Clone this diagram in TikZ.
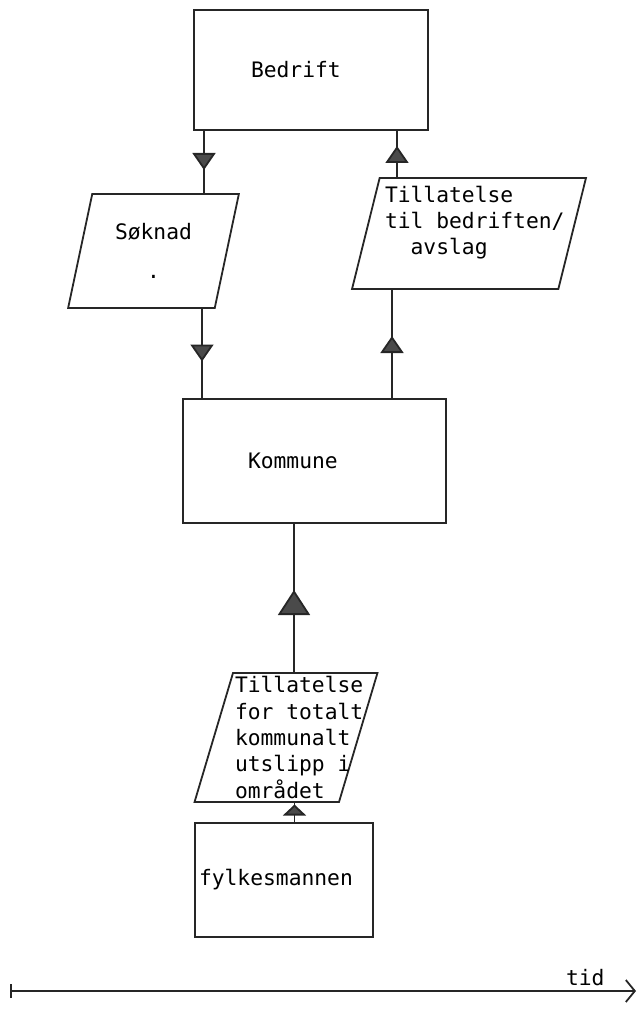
\documentclass[tikz,border=0pt]{standalone}
\usepackage{fontspec}
\setmonofont{DejaVu Sans Mono}
\usetikzlibrary{arrows.meta,positioning,shapes.geometric,decorations.markings}
\definecolor{ink}{HTML}{262626}
\definecolor{tipgray}{HTML}{4A4A4A}
% one typewriter cell of blank space
\newcommand{\tcell}{\hphantom{x}}
\tikzset{
  orgbox/.style={rectangle, draw=ink, line width=1.8pt, inner sep=0pt,
    align=left, font=\ttfamily\fontsize{21.3}{26.3}\selectfont},
  docbox/.style={trapezium, trapezium left angle=75, trapezium right angle=105,
    trapezium stretches=true, draw=ink, line width=1.8pt, inner sep=2pt,
    align=left, font=\ttfamily\fontsize{21.3}{26.3}\selectfont},
  flowline/.style={draw=ink, line width=1.8pt},
  % filled triangle half way along a connector
  flowtip/.style={flowline, postaction={decorate},
    decoration={markings, mark=at position 0.5 with
      {\pgftransformxshift{8pt}\arrow{Triangle[length=17pt, width=23pt, fill=tipgray, #1]}}}},
  flowtip/.default={},
  timeaxis/.style={draw=ink, line width=1.8pt,
    {Bar[width=14pt]}-{Straight Barb[length=9pt, width=22pt]}},
}

\begin{document}
\begin{tikzpicture}[x=1pt, y=-1pt]
\useasboundingbox (0,0) rectangle (638,1030);

% actors
\node[orgbox, minimum width=234pt, minimum height=120pt, text width=120pt]
  (bedrift) at (311,70) {Bedrift};
\node[orgbox, minimum width=263pt, minimum height=124pt, text width=133pt]
  (kommune) at (314.5,461) {Kommune};
\node[orgbox, minimum width=178pt, minimum height=114pt, text width=170pt]
  (fylke) at (284,880) {fylkesmannen};

% documents passed between them
\node[docbox, align=center, minimum width=171pt, minimum height=114pt]
  (soknad) at (153.5,251) {Søknad\\[13pt].};
\node[docbox, minimum width=234pt, minimum height=111pt, text width=168pt]
  (tillbed) at (469,233.5)
  {Tillatelse\\\mbox{til\tcell bedriften/}\\\tcell\tcell avslag\\\mbox{}};
\node[docbox, trapezium left angle=73, trapezium right angle=107,
  minimum width=182pt, minimum height=129pt, text width=102pt]
  (tilltot) at (286,737.5)
  {Tillatelse\\\mbox{for\tcell totalt}\\kommunalt\\\mbox{utslipp\tcell i}\\området};

% application goes down, permits come back up
\draw[flowtip] ([xshift=-107pt]bedrift.south) -- ([xshift=-107pt]bedrift.south |- soknad.north);
\draw[flowtip] ([xshift=-112.5pt]kommune.north |- soknad.south) -- ([xshift=-112.5pt]kommune.north);
\draw[flowtip] ([xshift=77.5pt]kommune.north) -- ([xshift=77.5pt]kommune.north |- tillbed.south);
\draw[flowtip] ([xshift=86pt]bedrift.south |- tillbed.north) -- ([xshift=86pt]bedrift.south);
\draw[flowtip={length=25pt, width=32pt}] ([xshift=-20.5pt]kommune.south |- tilltot.north) -- ([xshift=-20.5pt]kommune.south);
\draw[flowtip={length=11pt, width=23pt}] ([xshift=10.5pt]fylke.north) -- ([xshift=10.5pt]fylke.north |- tilltot.south);

% time axis
\coordinate (t0) at (10,991);
\coordinate (t1) at (636,991);
\draw[timeaxis] (t0) -- (t1);
\node[font=\ttfamily\fontsize{21.3}{24}\selectfont, above left=2pt and 28pt of t1] (tid) {tid};

\end{tikzpicture}
\end{document}
